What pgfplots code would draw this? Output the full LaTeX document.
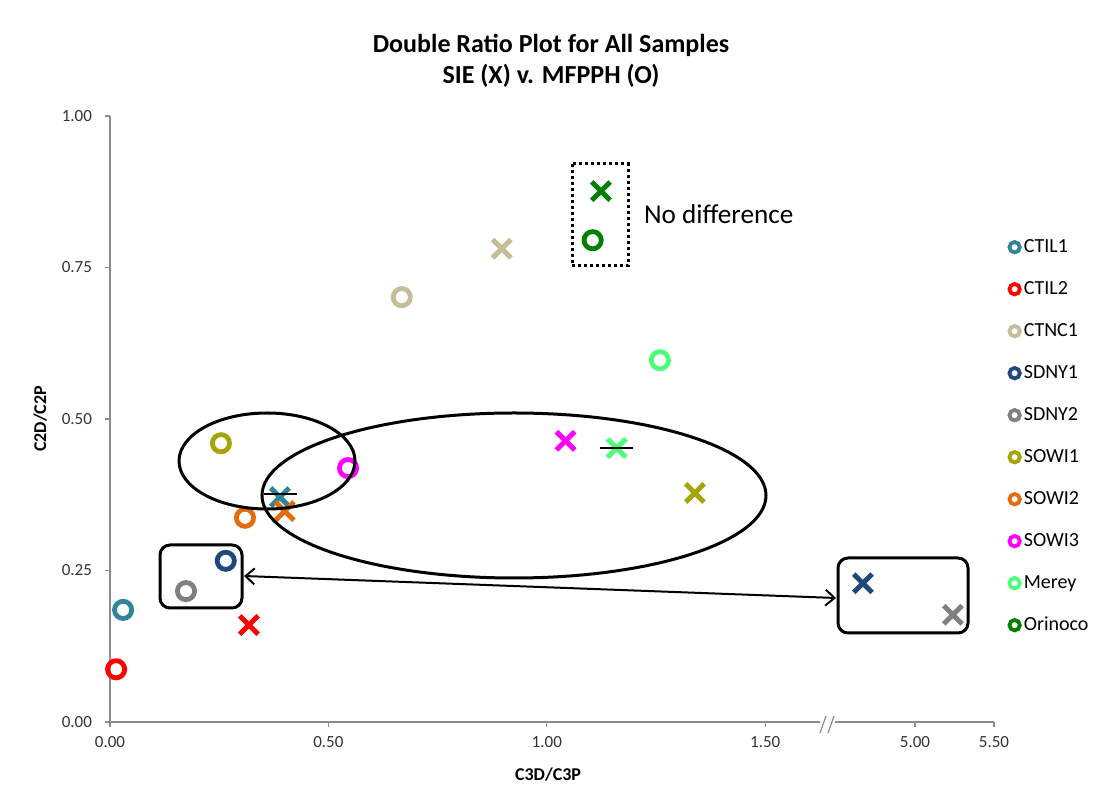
\documentclass[border=0pt]{standalone}
\usepackage{pgfplots}
\pgfplotsset{compat=1.18}
\usepackage{fontspec}
\setmainfont{Carlito}
\usetikzlibrary{arrows.meta}
\definecolor{cCTILa}{RGB}{49,133,155}
\definecolor{cCTILb}{RGB}{255,0,0}
\definecolor{cCTNC}{RGB}{196,189,151}
\definecolor{cSDNYa}{RGB}{31,73,125}
\definecolor{cSDNYb}{RGB}{128,128,128}
\definecolor{cSOWIa}{RGB}{165,165,10}
\definecolor{cSOWIb}{RGB}{228,108,10}
\definecolor{cSOWIc}{RGB}{255,0,255}
\definecolor{cMerey}{RGB}{77,255,121}
\definecolor{cOrinoco}{RGB}{0,128,0}
\begin{document}
\begin{tikzpicture}
\path[use as bounding box] (0,0) rectangle (551pt,396pt);
\begin{axis}[
  at={(55pt,35pt)}, anchor=south west,
  scale only axis, width=442pt, height=303pt,
  xmin=0, xmax=2.0238, ymin=0, ymax=1,
  clip=false,
  axis lines*=left,
  axis line style={draw=black!45, line width=0.6pt},
  tick align=outside,
  major tick length=2.5pt,
  tick style={draw=black!45, line width=0.6pt},
  xtick={0,0.5,1,1.5,1.843,2.0238},
  xticklabels={0.00,0.50,1.00,1.50,5.00,5.50},
  ytick={0,0.25,0.5,0.75,1},
  yticklabels={0.00,0.25,0.50,0.75,1.00},
  ticklabel style={font=\fontsize{8.5}{10}\selectfont, text=black!80},
  yticklabel style={xshift=-3pt},
  xticklabel style={yshift=-1pt},
  x filter/.expression={x>3 ? 1.843+(x-5)*0.3616 : x},
  title={Double Ratio Plot for All Samples\\SIE (X) v. MFPPH (O)},
  title style={align=center, font=\bfseries\fontsize{13}{15.5}\selectfont, at={(axis description cs:0.4989,1.0705)}, anchor=center},
  xlabel={C3D/C3P},
  xlabel style={font=\bfseries\fontsize{9}{11}\selectfont, at={(axis description cs:0.4955,-0.0875)}, anchor=center},
  ylabel={C2D/C2P},
  ylabel style={font=\bfseries\fontsize{9}{11}\selectfont, at={(axis description cs:-0.079,0.5)}, anchor=center},
  mark size=4.3pt,
  legend cell align=left,
  legend image code/.code={\draw[#1, line width=1.9pt, mark size=2.6pt] plot coordinates {(0cm,0cm)};},
  legend style={draw=none, fill=none, at={(axis description cs:1.017,0.799)}, anchor=north west, inner sep=0pt, row sep=12pt, column sep=2pt, font=\fontsize{10}{12}\selectfont, nodes={inner sep=0pt, text height=7pt, text depth=2pt}},
]
% MFPPH (O)
\addplot[only marks, mark=o, line width=2.4pt, color=cCTILa] coordinates {(0.030,0.185)};
\addlegendentry{CTIL1}
\addplot[only marks, mark=o, line width=2.4pt, color=cCTILb] coordinates {(0.014,0.087)};
\addlegendentry{CTIL2}
\addplot[only marks, mark=o, line width=2.4pt, color=cCTNC] coordinates {(0.668,0.701)};
\addlegendentry{CTNC1}
\addplot[only marks, mark=o, line width=2.4pt, color=cSDNYa] coordinates {(0.265,0.266)};
\addlegendentry{SDNY1}
\addplot[only marks, mark=o, line width=2.4pt, color=cSDNYb] coordinates {(0.174,0.216)};
\addlegendentry{SDNY2}
\addplot[only marks, mark=o, line width=2.4pt, color=cSOWIa] coordinates {(0.254,0.460)};
\addlegendentry{SOWI1}
\addplot[only marks, mark=o, line width=2.4pt, color=cSOWIb] coordinates {(0.309,0.337)};
\addlegendentry{SOWI2}
\addplot[only marks, mark=o, line width=2.4pt, color=cSOWIc] coordinates {(0.545,0.419)};
\addlegendentry{SOWI3}
\addplot[only marks, mark=o, line width=2.4pt, color=cMerey] coordinates {(1.259,0.597)};
\addlegendentry{Merey}
\addplot[only marks, mark=o, line width=2.4pt, color=cOrinoco] coordinates {(1.105,0.795)};
\addlegendentry{Orinoco}
% SIE (X)
\addplot[forget plot, only marks, mark=x, mark size=6.5pt, line width=2.5pt, color=cCTILa] coordinates {(0.389,0.371)};
\addplot[forget plot, only marks, mark=x, mark size=6.5pt, line width=2.5pt, color=cCTILb] coordinates {(0.318,0.160)};
\addplot[forget plot, only marks, mark=x, mark size=6.5pt, line width=2.5pt, color=cCTNC] coordinates {(0.897,0.781)};
\addplot[forget plot, only marks, mark=x, mark size=6.5pt, line width=2.5pt, color=cSDNYa] coordinates {(4.67,0.229)};
\addplot[forget plot, only marks, mark=x, mark size=6.5pt, line width=2.5pt, color=cSDNYb] coordinates {(5.24,0.177)};
\addplot[forget plot, only marks, mark=x, mark size=6.5pt, line width=2.5pt, color=cSOWIa] coordinates {(1.339,0.378)};
\addplot[forget plot, only marks, mark=x, mark size=6.5pt, line width=2.5pt, color=cSOWIb] coordinates {(0.400,0.348)};
\addplot[forget plot, only marks, mark=x, mark size=6.5pt, line width=2.5pt, color=cSOWIc] coordinates {(1.043,0.464)};
\addplot[forget plot, only marks, mark=x, mark size=6.5pt, line width=2.5pt, color=cMerey] coordinates {(1.160,0.452)};
\addplot[forget plot, only marks, mark=x, mark size=6.5pt, line width=2.5pt, color=cOrinoco] coordinates {(1.124,0.876)};
\end{axis}
\begin{scope}[shift={(0pt,396pt)}, x=0.5pt, y=-0.5pt]
  % axis break
  \fill[white] (820,716) rectangle (835,728);
  \draw[black!45, line width=0.6pt] (820,733) -- (826,716);
  \draw[black!45, line width=0.6pt] (828,733) -- (834,716);
  % ellipses
  \draw[line width=1.5pt] (267,461) ellipse [x radius=44pt, y radius=24pt];
  \draw[line width=1.5pt] (514,495.5) ellipse [x radius=126pt, y radius=41.25pt];
  % boxes
  \draw[line width=1.5pt, rounded corners=5pt] (160,545) rectangle (242,608);
  \draw[line width=1.5pt, rounded corners=5pt] (838,558) rectangle (968,633);
  \draw[line width=1pt, {Straight Barb[length=4.5pt,width=8pt]}-{Straight Barb[length=4.5pt,width=8pt]}] (244,576) -- (836,598);
  \draw[line width=1.5pt, dash pattern=on 1.5pt off 1.5pt] (572,164) rectangle (628,266);
  % dashes
  \draw[line width=1.2pt] (264,494) -- (297,494);
  \draw[line width=1.2pt] (600,448) -- (633,448);
  \node[anchor=west, font=\fontsize{13.6}{16}\selectfont] at (637,214) {No difference};
\end{scope}
\end{tikzpicture}
\end{document}
